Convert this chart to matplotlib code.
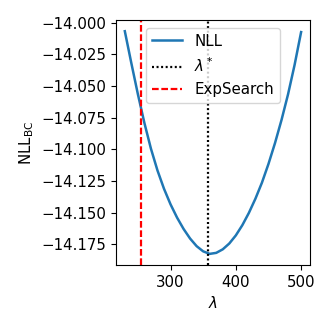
import matplotlib.pyplot as plt

plt.rcParams["font.size"] = 10.8

# values (every 10 on the lambda axis)
lam = [230, 240, 250, 260, 270, 280, 290, 300, 310, 320, 330, 340, 350, 360,
       370, 380, 390, 400, 410, 420, 430, 440, 450, 460, 470, 480, 490, 500]
nll = [-14.0066, -14.0319, -14.0564, -14.0792, -14.0995, -14.1167, -14.1312,
       -14.1435, -14.1540, -14.1630, -14.1706, -14.1766, -14.1807, -14.1827,
       -14.1819, -14.1791, -14.1745, -14.1681, -14.1600, -14.1503, -14.1391,
       -14.1264, -14.1116, -14.0951, -14.0768, -14.0565, -14.0333, -14.0073]
lam_star = 357.5
lam_expsearch = 255.5
yticks = [-14.0, -14.025, -14.05, -14.075, -14.1, -14.125, -14.15, -14.175]

fig = plt.figure(figsize=(3.29, 3.29), dpi=100)
ax = fig.add_axes([0.3526, 0.1945, 0.5894, 0.7445])

ax.plot(lam, nll, lw=1.8, label="NLL")
ax.axvline(lam_star, color="black", lw=1.6, linestyle=":", dashes=(0.9, 1.15),
           label=r"$\lambda^*$")
ax.axvline(lam_expsearch, color="red", lw=1.6, linestyle="--", dashes=(3.0, 1.2),
           label="ExpSearch")

ax.set_xlabel(r"$\lambda$")
ax.set_ylabel(r"NLL$_{\rm BC}$")
ax.set_xticks([300, 400, 500])
ax.set_yticks(yticks)
ax.set_yticklabels([f"{v:.3f}".replace("-", "\u2212") for v in yticks])
ax.legend(loc="upper center")

plt.savefig("out.png")
